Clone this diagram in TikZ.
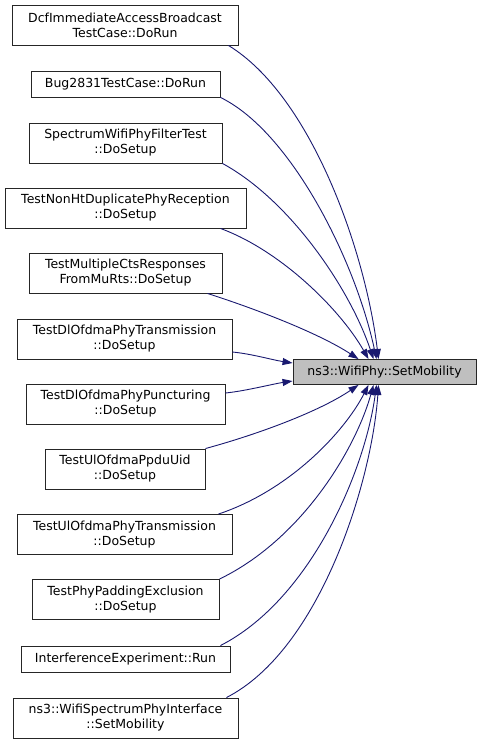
\documentclass[tikz,border=0pt]{standalone}
\usepackage{fontspec}
\setmainfont{DejaVu Sans}
\usetikzlibrary{arrows.meta,calc}
\definecolor{edgeblue}{HTML}{191970}
\definecolor{tgtgray}{HTML}{BFBFBF}
\begin{document}
\begin{tikzpicture}[x=1bp,y=-1bp,
  box/.style={draw=black!85, line width=0.9bp, rectangle, inner sep=0pt, align=center,
    font=\fontsize{12.5bp}{15bp}\selectfont, minimum height=40bp},
  onebox/.style={box, minimum height=26bp},
  tgt/.style={box, fill=tgtgray, minimum height=25bp},
  call/.style={draw=edgeblue, line width=0.9bp, -{Triangle[length=10bp,width=7bp]}, fill=none},
]
\path[use as bounding box] (0,0) rectangle (481,744);
\node[box, minimum width=226bp] (n1) at (125,25) {DcfImmediateAccessBroadcast\\TestCase::DoRun};
\node[onebox, minimum width=189bp] (n2) at (125.5,84) {Bug2831TestCase::DoRun};
\node[box, minimum width=193bp] (n3) at (125.5,143) {SpectrumWifiPhyFilterTest\\::DoSetup};
\node[box, minimum width=241bp] (n4) at (125.5,208) {TestNonHtDuplicatePhyReception\\::DoSetup};
\node[box, minimum width=193bp] (n5) at (125.5,273) {TestMultipleCtsResponses\\FromMuRts::DoSetup};
\node[box, minimum width=215bp] (n6) at (124.5,339) {TestDlOfdmaPhyTransmission\\::DoSetup};
\node[box, minimum width=199bp] (n7) at (125.5,404) {TestDlOfdmaPhyPuncturing\\::DoSetup};
\node[box, minimum width=160bp] (n8) at (125,469) {TestUlOfdmaPpduUid\\::DoSetup};
\node[box, minimum width=215bp] (n9) at (124.5,534.5) {TestUlOfdmaPhyTransmission\\::DoSetup};
\node[box, minimum width=187bp] (n10) at (125.5,599.5) {TestPhyPaddingExclusion\\::DoSetup};
\node[onebox, minimum width=209bp] (n11) at (125.5,659) {InterferenceExperiment::Run};
\node[box, minimum width=225bp] (n12) at (125.5,718) {ns3::WifiSpectrumPhyInterface\\::SetMobility};
\node[tgt, minimum width=183bp] (t) at (384.5,372) {ns3::WifiPhy::SetMobility};

\draw[call] ($(n1.south east)+(-10,0)$) .. controls +(82,50) and +(-13.5,-110) .. ($(t.north)+(-6,0)$);
\draw[call] (n2.south east) .. controls +(70,34) and +(-21.5,-100) .. ($(t.north)+(-8,0)$);
\draw[call] (n3.south east) .. controls +(68,37) and +(-23.5,-70) .. ($(t.north)+(-11,0)$);
\draw[call] ($(n4.south east)+(-26,0)$) .. controls +(60,22) and +(-28.5,-50) .. ($(t.north)+(-16,0)$);
\draw[call] ($(n5.south east)+(-15,0)$) .. controls +(53,17) and +(-38.5,-25) .. ($(t.north)+(-26,0)$);
\draw[call] ($(n6.east)+(0,13)$) .. controls +(20,2) and +(-20,-3) .. ($(t.west)+(0,-9)$);
\draw[call] ($(n7.east)+(0,-11)$) .. controls +(20,-2) and +(-20,3) .. ($(t.west)+(0,9)$);
\draw[call] (n8.north east) .. controls +(55,-15) and +(-38.5,26) .. ($(t.south)+(-26,0)$);
\draw[call] ($(n9.north east)+(-14,0)$) .. controls +(72,-24) and +(-23.5,46) .. ($(t.south)+(-16,0)$);
\draw[call] (n10.north east) .. controls +(81,-39) and +(-18.5,66) .. ($(t.south)+(-11,0)$);
\draw[call] ($(n11.north east)+(-10,0)$) .. controls +(90,-46) and +(-11.5,86) .. ($(t.south)+(-8,0)$);
\draw[call] ($(n12.north east)+(-12,0)$) .. controls +(94,-48) and +(-6.5,96) .. ($(t.south)+(-6,0)$);
\end{tikzpicture}
\end{document}
